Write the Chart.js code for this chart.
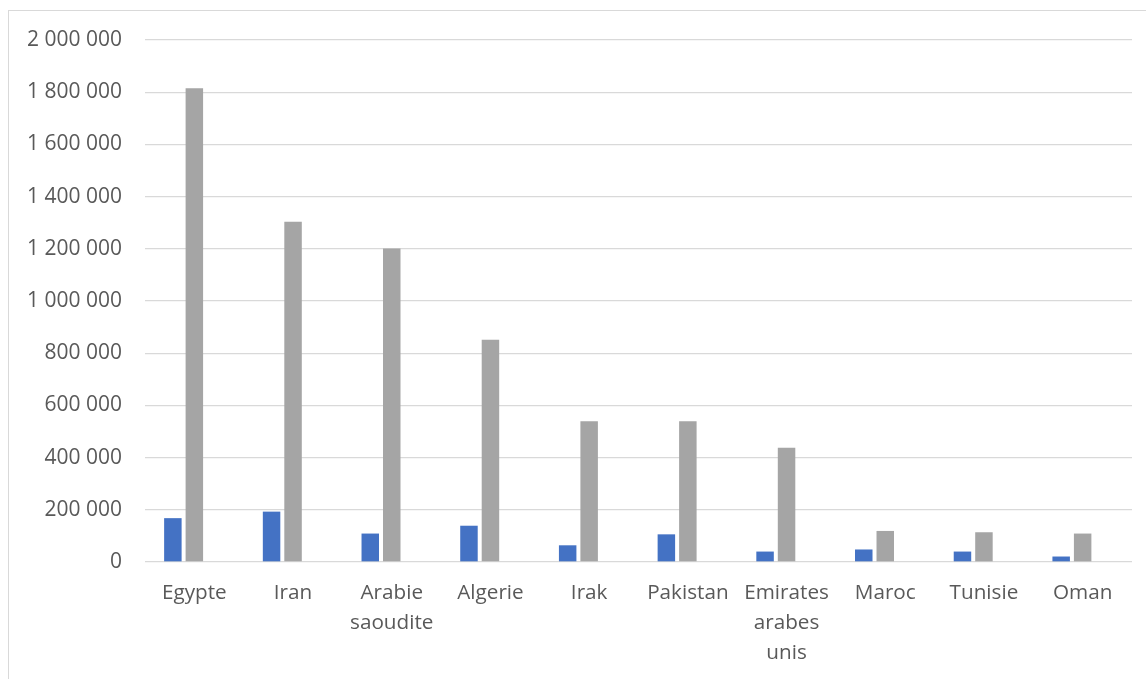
<!DOCTYPE html>
<html lang="fr">
<head>
<meta charset="utf-8">
<title>Pays</title>
<script src="https://cdn.jsdelivr.net/npm/chart.js@4.4.1/dist/chart.umd.min.js"></script>
<style>
  html, body { margin: 0; padding: 0; background: #ffffff; overflow: hidden; }
  #wrap { position: relative; width: 1146px; height: 679px; }
  #frame { position: absolute; left: 8px; top: 10px; width: 1160px; height: 720px;
           border: 1px solid #d9d9d9; box-sizing: border-box; }
  #chart { position: absolute; left: 0; top: 0; }
</style>
</head>
<body>
<div id="wrap">
  <div id="frame"></div>
  <canvas id="chart" width="1146" height="679"></canvas>
</div>
<script>
// Categories (multi-line names are split into lines)
const countries = [
  'Egypte', 'Iran', ['Arabie', 'saoudite'], 'Algerie', 'Irak',
  'Pakistan', ['Emirates', 'arabes', 'unis'], 'Maroc', 'Tunisie', 'Oman'
];

// Series values
const seriesBlue = [168000, 193000, 109000, 139000, 64000, 106000, 40000, 48000, 40000, 21000];
const seriesGray = [1815000, 1304000, 1201000, 852000, 539000, 539000, 438000, 119000, 114000, 109000];
const seriesThird = [null, null, null, null, null, null, null, null, null, null];

// Value axis
const yMin = 0;
const yMax = 2000000;
const yStep = 200000;

function formatThousands(v) {
  return String(Math.round(v)).replace(/\B(?=(\d{3})+(?!\d))/g, ' ');
}

const FONT = '"Open Sans", "Noto Sans", sans-serif';
const TEXT = '#595959';
const GRID = '#d9d9d9';

new Chart(document.getElementById('chart'), {
  type: 'bar',
  data: {
    labels: countries,
    datasets: [
      { label: 'Série 1', data: seriesBlue, backgroundColor: '#4472c4' },
      { label: 'Série 2', data: seriesGray, backgroundColor: '#a5a5a5' },
      { label: 'Série 3', data: seriesThird, backgroundColor: '#ed7d31' }
    ]
  },
  options: {
    responsive: false,
    animation: false,
    events: [],
    categoryPercentage: 0.653,
    barPercentage: 0.814,
    layout: { padding: { left: 0, right: 14, top: 40, bottom: 0 } },
    plugins: {
      legend: { display: false },
      tooltip: { enabled: false }
    },
    scales: {
      x: {
        grid: { display: false, drawTicks: false },
        border: { display: false },
        ticks: {
          color: TEXT,
          font: { family: FONT, size: 20.7, lineHeight: 1.45 },
          padding: 16,
          maxRotation: 0,
          autoSkip: false
        },
        afterFit: (scale) => { scale.height = 117; }
      },
      y: {
        min: yMin,
        max: yMax,
        grid: { color: GRID, lineWidth: 1.3, drawTicks: false },
        border: { display: false },
        ticks: {
          stepSize: yStep,
          color: TEXT,
          font: { family: FONT, size: 21 },
          padding: 23,
          callback: (v) => formatThousands(v)
        },
        afterFit: (scale) => { scale.width = 145; }
      }
    }
  }
});
</script>
</body>
</html>
